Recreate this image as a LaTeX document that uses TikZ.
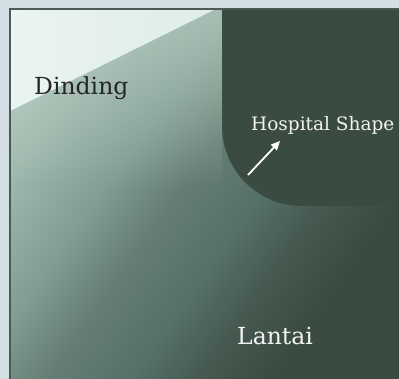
\documentclass[tikz,border=0pt]{standalone}
\usepackage{fontspec}
\setmainfont{DejaVu Serif}
\usetikzlibrary{arrows.meta,fadings}

\definecolor{framebg}{HTML}{D4DFE5}
\definecolor{frameline}{HTML}{4C5A55}
\definecolor{hilite}{HTML}{EAF4F3}
\definecolor{paleteal}{HTML}{B4CBC0}
\definecolor{lightteal}{HTML}{9AB3A8}
\definecolor{softteal}{HTML}{829C91}
\definecolor{midteal}{HTML}{657D74}
\definecolor{dimteal}{HTML}{56706A}
\definecolor{deepteal}{HTML}{465A51}
\definecolor{hospdark}{HTML}{3A4C42}

\pgfdeclarehorizontalshading{roomlight}{100bp}{color(0bp)=(hilite); color(20bp)=(paleteal); color(30bp)=(lightteal); color(39bp)=(softteal); color(47bp)=(midteal); color(56bp)=(dimteal); color(63bp)=(deepteal); color(71bp)=(hospdark); color(100bp)=(hospdark)}

\begin{document}
\begin{tikzpicture}[x=1pt,y=1pt,
    darktext/.style={inner sep=0pt,anchor=base west,text=black!85,font=\fontsize{23.5}{27}\selectfont},
    lighttext/.style={inner sep=0pt,anchor=base west,text=white!95!black},
    pointer/.style={draw=white,line width=1.8pt,-{Triangle[length=9pt,width=8pt]}}]
    \useasboundingbox (0,0) rectangle (399,379);
    \fill[framebg] (0,0) rectangle (399,379);
    % wall and floor
    \shade[shading=roomlight,shading angle=-35] (10,0) rectangle (399,370);
    \fill[paleteal,path fading=south,fill opacity=0.7] (10,190) rectangle (222,370);
    \shade[left color=hilite,right color=hilite!80!paleteal] (10,370) -- (216,370) -- (10,268) -- cycle;
    % hospital shape
    \fill[hospdark] (222,370) -- (222,253) arc (180:270:80) -- (399,173) -- (399,370) -- cycle;
    \draw[frameline,line width=1.5pt] (10,0) -- (10,370) -- (399,370);
    % labels
    \node[darktext] (dinding) at (34,284) {Dinding};
    \node[lighttext,font=\fontsize{18.5}{22}\selectfont] (hospital) at (251,248) {Hospital Shape};
    \node[lighttext,font=\fontsize{23.5}{27}\selectfont] (lantai) at (237,34) {Lantai};
    \coordinate (tail) at (248,204);
    \coordinate (tip) at (280,238);
    \draw[pointer] (tail) -- (tip);
\end{tikzpicture}
\end{document}
